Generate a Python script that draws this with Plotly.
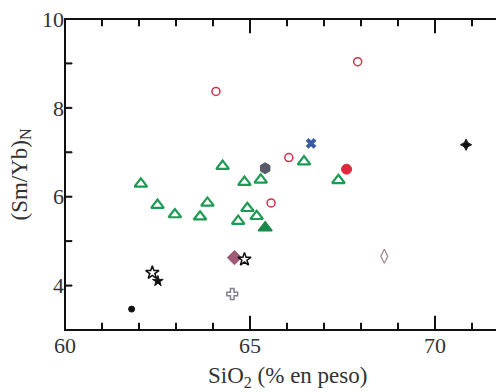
import plotly.graph_objects as go

# Green open triangles
tri_x = [62.05, 62.5, 62.97, 63.65, 63.85, 64.26, 64.68, 64.85, 64.93, 65.18, 65.29, 66.46, 67.39]
tri_y = [6.29, 5.81, 5.60, 5.55, 5.86, 6.69, 5.45, 6.33, 5.74, 5.56, 6.38, 6.79, 6.37]
# Green filled triangle
trif_x = [65.41]
trif_y = [5.30]
# Red open circles
circ_x = [64.08, 66.05, 65.57, 67.91]
circ_y = [8.37, 6.88, 5.86, 9.04]
# Red filled circle
circf_x = [67.61]
circf_y = [6.62]
# Blue x
bx_x = [66.65]
bx_y = [7.20]
# Dark grey filled hexagon
hex_x = [65.41]
hex_y = [6.64]
# Mauve filled diamond
dia_x = [64.58]
dia_y = [4.63]
# Open diamond
odia_x = [68.63]
odia_y = [4.66]
# Black open stars
star_x = [64.85, 62.36]
star_y = [4.59, 4.29]
# Black filled small star
fstar_x = [62.51]
fstar_y = [4.10]
# Black dot
dot_x = [61.80]
dot_y = [3.47]
# Grey open cross
ocr_x = [64.52]
ocr_y = [3.81]
# Black small cross
bcr_x = [70.84]
bcr_y = [7.17]

x_ticks = [60, 65, 70]
x_minor_ticks = [61, 62, 63, 64, 66, 67, 68, 69, 71]
y_ticks = [4, 6, 8, 10]
y_minor_ticks = [4, 5, 6, 7, 8, 9]

fig = go.Figure()

def add(x, y, symbol, size, color, fill, lw=1.5):
    fig.add_trace(go.Scatter(
        x=x, y=y, mode="markers", showlegend=False, cliponaxis=False,
        marker=dict(symbol=symbol, size=size, color=fill,
                    line=dict(color=color, width=lw))))

add(tri_x, tri_y, "triangle-up", 11, "#1e9a55", "white", 2.2)
add(trif_x, trif_y, "triangle-up", 12, "#1a8a4a", "#1a8a4a", 1.5)
add(circ_x, circ_y, "circle", 8, "#d0304a", "white", 1.5)
add(circf_x, circf_y, "circle", 10, "#e0283c", "#e0283c", 1)
add(bx_x, bx_y, "x", 9, "#3a5aa0", "#3a5aa0", 0.5)
add(hex_x, hex_y, "hexagon", 11, "#585868", "#585868", 1)
add(dia_x, dia_y, "diamond", 11, "#a05a78", "#a05a78", 1)
add(odia_x, odia_y, "diamond-tall-open", 10, "#a08088", "#a08088", 1.2)
add(star_x, star_y, "star-open", 10, "#111111", "#111111", 1.5)
add(fstar_x, fstar_y, "star", 8, "#111111", "#111111", 1)
add(dot_x, dot_y, "circle", 6, "#111111", "#111111", 1)
add(ocr_x, ocr_y, "cross-open", 9, "#808090", "#808090", 1.5)
add(bcr_x, bcr_y, "star-diamond", 8, "#111111", "#111111", 1)

tick_font = dict(family="Liberation Serif", size=22, color="#333333")
title_font = dict(family="Liberation Serif", size=23, color="#333333")
axis_col = "#111111"

W, H = 496, 384
ML, MR, MT, MB = 57, 0, 11, 62
PW, PH = W - ML - MR, H - MT - MB
XR = [60, 71.865]
PX = PW / (XR[1] - XR[0])  # px per x unit
PY = PH / 7.0               # px per y unit

def bar(**kw):
    return dict(type="rect", line=dict(width=1, color=axis_col), fillcolor=axis_col,
                layer="above", **kw)

shapes = [
    dict(type="rect", xref="paper", yref="paper", x0=0, x1=1 + 3 / PW, y0=0, y1=1,
         line=dict(color=axis_col, width=2), layer="above"),
]
hw = 0.5 / PX
for v, L in [(t, 14) for t in x_ticks] + [(t, 7) for t in x_minor_ticks]:
    f = L / PH
    shapes.append(bar(xref="x", yref="paper", x0=v - hw, x1=v + hw, y0=0, y1=f))
    shapes.append(bar(xref="x", yref="paper", x0=v - hw, x1=v + hw, y0=1 - f, y1=1))
hh = 0.5 / PY
for v in y_minor_ticks:
    f = 7 / PW
    shapes.append(bar(xref="paper", yref="y", x0=0, x1=f, y0=v - hh, y1=v + hh))
    shapes.append(bar(xref="paper", yref="y", x0=1 - f, x1=1, y0=v - hh, y1=v + hh))

fig.update_layout(
    width=W, height=H,
    margin=dict(l=ML, r=MR, t=MT, b=MB),
    paper_bgcolor="white", plot_bgcolor="white",
    font=tick_font,
    xaxis=dict(range=XR, tickvals=x_ticks, ticks="", showline=False,
               showgrid=False, zeroline=False, tickfont=tick_font,
               ticklabeloverflow="allow"),
    yaxis=dict(range=[3, 10], tickvals=y_ticks, ticks="", showline=False,
               showgrid=False, zeroline=False, tickfont=tick_font,
               ticklabeloverflow="allow"),
    shapes=shapes,
    annotations=[
        dict(text="SiO<sub>2</sub> (% en peso)", xref="paper", yref="paper",
             x=(287 - 8 - ML) / PW, y=-(377 - 8 - (MT + PH)) / PH,
             xanchor="center", yanchor="middle",
             showarrow=False, font=title_font),
        dict(text="(Sm/Yb)<sub>N</sub>", xref="paper", yref="paper",
             x=-(ML - (20 - 8)) / PW, y=0.5, xanchor="center", yanchor="middle",
             textangle=-90, showarrow=False, font=title_font),
    ],
)

fig.write_html("out.html")
